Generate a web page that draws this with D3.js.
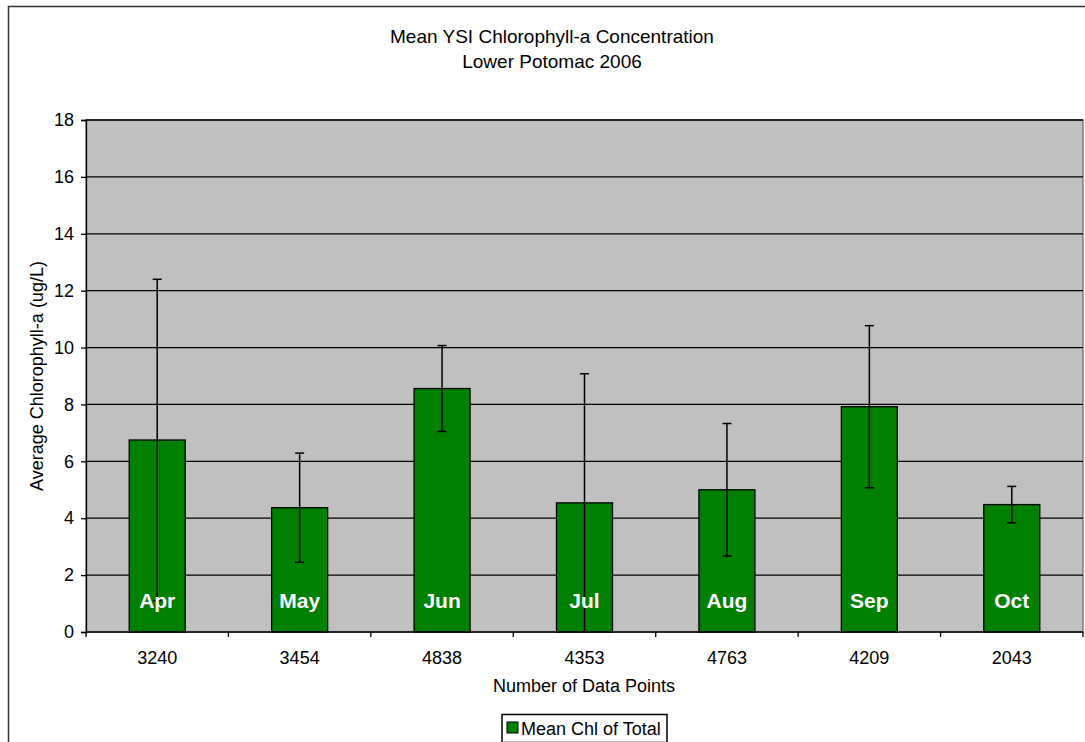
<!DOCTYPE html>
<html><head><meta charset="utf-8">
<script src="https://cdn.jsdelivr.net/npm/d3@7"></script>
<style>body{margin:0;background:#fff}svg{display:block}text{font-family:"Liberation Sans",Arial,sans-serif}</style>
</head><body>
<script>
const months = ["Apr","May","Jun","Jul","Aug","Sep","Oct"];
const dataPoints = ["3240","3454","4838","4353","4763","4209","2043"];
const meanChl = [6.75, 4.37, 8.56, 4.54, 5.00, 7.92, 4.48];
const errChl = [5.65, 1.92, 1.51, 4.54, 2.33, 2.85, 0.64];
const yTicks = [0,2,4,6,8,10,12,14,16,18];

const W=1085,H=742;
const svg=d3.select("body").append("svg").attr("width",W).attr("height",H);
const m={l:86,t:120,r:1083,b:632};
svg.append("rect").attr("x",8.5).attr("y",6.5).attr("width",1090).attr("height",760).attr("fill","#fff").attr("stroke","#333").attr("stroke-width",1.5);

const x=d3.scaleBand().domain(d3.range(months.length)).range([m.l,m.r]);
const y=d3.scaleLinear().domain([0,18]).range([m.b,m.t]);

svg.append("rect").attr("x",m.l).attr("y",m.t).attr("width",m.r-m.l).attr("height",m.b-m.t).attr("fill","#c0c0c0").attr("stroke","#808080").attr("stroke-width",1.5);

// gridlines
svg.append("g").selectAll("line").data(yTicks.filter(d=>d>0)).join("line")
 .attr("x1",m.l).attr("x2",m.r).attr("y1",d=>y(d)).attr("y2",d=>y(d)).attr("stroke","#000").attr("stroke-width",1.3);

// y axis
const ya=svg.append("g").attr("transform",`translate(${m.l},0)`).call(d3.axisLeft(y).tickValues(yTicks).tickSize(5).tickPadding(7).tickFormat(d3.format("d")));
ya.select(".domain").attr("stroke","#000").attr("stroke-width",1.3);
ya.selectAll(".tick line").attr("stroke","#000").attr("stroke-width",1.3);
ya.selectAll("text").attr("font-size",18).attr("fill","#000").style("font-family","Liberation Sans, Arial");

// bars
const bw=56;
svg.append("g").selectAll("rect").data(meanChl).join("rect")
 .attr("x",(d,i)=>x(i)+x.bandwidth()/2-bw/2).attr("width",bw)
 .attr("y",d=>y(d)).attr("height",d=>y(0)-y(d))
 .attr("fill","#008000").attr("stroke","#000").attr("stroke-width",1.3);

// error bars
const eg=svg.append("g").attr("stroke","#000").attr("stroke-width",1.5);
meanChl.forEach((v,i)=>{
  const cx=x(i)+x.bandwidth()/2;
  const hi=v+errChl[i], lo=Math.max(0,v-errChl[i]);
  eg.append("line").attr("x1",cx).attr("x2",cx).attr("y1",y(hi)).attr("y2",y(lo));
  eg.append("line").attr("x1",cx-4.5).attr("x2",cx+4.5).attr("y1",y(hi)).attr("y2",y(hi));
  if(lo>0) eg.append("line").attr("x1",cx-4.5).attr("x2",cx+4.5).attr("y1",y(lo)).attr("y2",y(lo));
});

// month labels
svg.append("g").selectAll("text").data(months).join("text")
 .attr("x",(d,i)=>x(i)+x.bandwidth()/2).attr("y",608).attr("text-anchor","middle")
 .attr("font-size",21).attr("font-weight","bold").attr("fill","#fff").text(d=>d);

// x axis
svg.append("line").attr("x1",m.l).attr("x2",m.r).attr("y1",m.b).attr("y2",m.b).attr("stroke","#000").attr("stroke-width",1.5);
svg.append("g").selectAll("line").data(d3.range(months.length+1)).join("line")
 .attr("x1",i=>i<months.length?x(i):m.r).attr("x2",i=>i<months.length?x(i):m.r).attr("y1",m.b).attr("y2",m.b+5).attr("stroke","#000").attr("stroke-width",1.3);
svg.append("g").selectAll("text").data(dataPoints).join("text")
 .attr("x",(d,i)=>x(i)+x.bandwidth()/2).attr("y",664).attr("text-anchor","middle").attr("font-size",18).attr("fill","#000").text(d=>d);

// titles
svg.append("text").attr("x",552).attr("y",43).attr("text-anchor","middle").attr("font-size",19).text("Mean YSI Chlorophyll-a Concentration");
svg.append("text").attr("x",552).attr("y",68).attr("text-anchor","middle").attr("font-size",19).text("Lower Potomac 2006");
svg.append("text").attr("x",584).attr("y",692).attr("text-anchor","middle").attr("font-size",18).text("Number of Data Points");
svg.append("text").attr("transform",`translate(43,${(m.t+m.b)/2}) rotate(-90)`).attr("text-anchor","middle").attr("font-size",18).text("Average Chlorophyll-a (ug/L)");

// legend
const lg=svg.append("g");
lg.append("rect").attr("x",502).attr("y",714.5).attr("width",165).attr("height",28).attr("fill","#fff").attr("stroke","#000").attr("stroke-width",1.5);
lg.append("rect").attr("x",507).attr("y",722).attr("width",11).attr("height",11).attr("fill","#008000").attr("stroke","#000");
lg.append("text").attr("x",521).attr("y",735).attr("font-size",18).text("Mean Chl of Total");
</script>
</body></html>
